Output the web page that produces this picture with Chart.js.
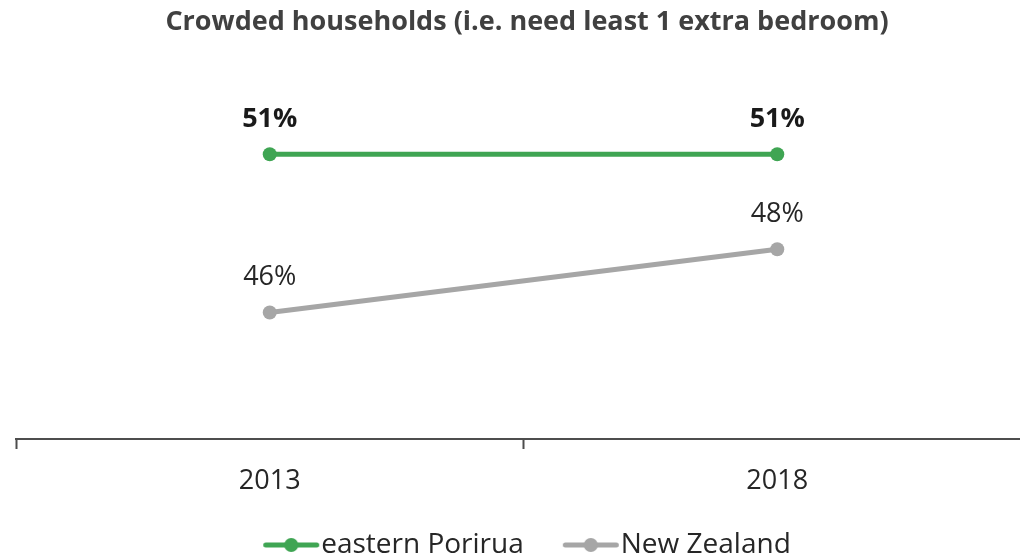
<!DOCTYPE html>
<html>
<head>
<meta charset="utf-8">
<script src="https://cdn.jsdelivr.net/npm/chart.js@4"></script>
<style>
  html, body { margin: 0; padding: 0; background: #fff; overflow: hidden; }
  #wrap { width: 1038px; height: 569px; }
</style>
</head>
<body>
<div id="wrap"><canvas id="grafico" width="1038" height="569"></canvas></div>
<script>
// dados do gráfico
const anos = ["2013", "2018"];
const porirua = [51, 51];
const novaZelandia = [46, 48];
const nomesSeries = ["eastern Porirua", "New Zealand"];
const coresSeries = ["#3fa553", "#a6a6a6"];

// ícone da legenda: linha com círculo no meio
function iconeLegenda(cor) {
  const c = document.createElement("canvas");
  c.width = 72;
  c.height = 16;
  const ctx = c.getContext("2d");
  ctx.strokeStyle = cor;
  ctx.lineWidth = 5;
  ctx.lineCap = "round";
  ctx.beginPath();
  ctx.moveTo(16.5, 8);
  ctx.lineTo(67.5, 8);
  ctx.stroke();
  ctx.fillStyle = cor;
  ctx.beginPath();
  ctx.arc(42, 8, 7, 0, Math.PI * 2);
  ctx.fill();
  return c;
}

// rótulos de valor acima dos pontos
const rotulosValor = {
  id: "rotulosValor",
  afterDatasetsDraw(chart) {
    const ctx = chart.ctx;
    chart.data.datasets.forEach((ds, i) => {
      const meta = chart.getDatasetMeta(i);
      meta.data.forEach((pt, j) => {
        ctx.save();
        ctx.font = (i === 0 ? "bold " : "") + "27px 'Open Sans'";
        ctx.fillStyle = i === 0 ? "#1a1a1a" : "#262626";
        ctx.textAlign = "center";
        ctx.textBaseline = "middle";
        ctx.fillText(ds.data[j] + "%", pt.x, pt.y - 35);
        ctx.restore();
      });
    });
  },
};

const ctxGrafico = document.getElementById("grafico").getContext("2d");
const grafico = new Chart(ctxGrafico, {
  type: "line",
  data: {
    labels: anos,
    datasets: [
      {
        label: nomesSeries[0],
        data: porirua,
        borderColor: coresSeries[0],
        backgroundColor: coresSeries[0],
        borderWidth: 5,
        pointRadius: 7,
        pointBorderWidth: 0,
        tension: 0,
      },
      {
        label: nomesSeries[1],
        data: novaZelandia,
        borderColor: coresSeries[1],
        backgroundColor: coresSeries[1],
        borderWidth: 5,
        pointRadius: 7,
        pointBorderWidth: 0,
        tension: 0,
      },
    ],
  },
  options: {
    responsive: false,
    animation: false,
    devicePixelRatio: 1,
    layout: { padding: { left: 16, right: 0, top: 0, bottom: 0 } },
    scales: {
      x: {
        offset: true,
        grid: {
          display: true,
          offset: true,
          drawOnChartArea: false,
          drawTicks: true,
          tickLength: 10,
          tickWidth: 2,
          tickColor: "#4d4d4d",
        },
        border: { display: true, color: "#4d4d4d", width: 2 },
        ticks: {
          padding: 16,
          color: "#262626",
          font: { family: "'Open Sans'", size: 27 },
        },
        afterFit(s) {
          s.height = 53;
        },
      },
      y: {
        display: false,
        min: 42,
        max: 54,
      },
    },
    plugins: {
      title: {
        display: true,
        text: "Crowded households (i.e. need least 1 extra bedroom)",
        color: "#404040",
        font: { family: "'Open Sans'", size: 27, weight: "bold" },
        padding: { top: 5.8, bottom: 21.2 },
      },
      legend: {
        position: "bottom",
        labels: {
          usePointStyle: true,
          pointStyleWidth: 44,
          padding: 39,
          color: "#262626",
          font: { family: "'Open Sans'", size: 28 },
          generateLabels(chart) {
            return chart.data.datasets.map((ds, i) => ({
              text: ds.label,
              fillStyle: coresSeries[i],
              strokeStyle: coresSeries[i],
              pointStyle: iconeLegenda(coresSeries[i]),
              fontColor: "#262626",
              lineWidth: 0,
              datasetIndex: i,
            }));
          },
        },
      },
      tooltip: { enabled: false },
    },
  },
  plugins: [rotulosValor],
});
</script>
</body>
</html>
